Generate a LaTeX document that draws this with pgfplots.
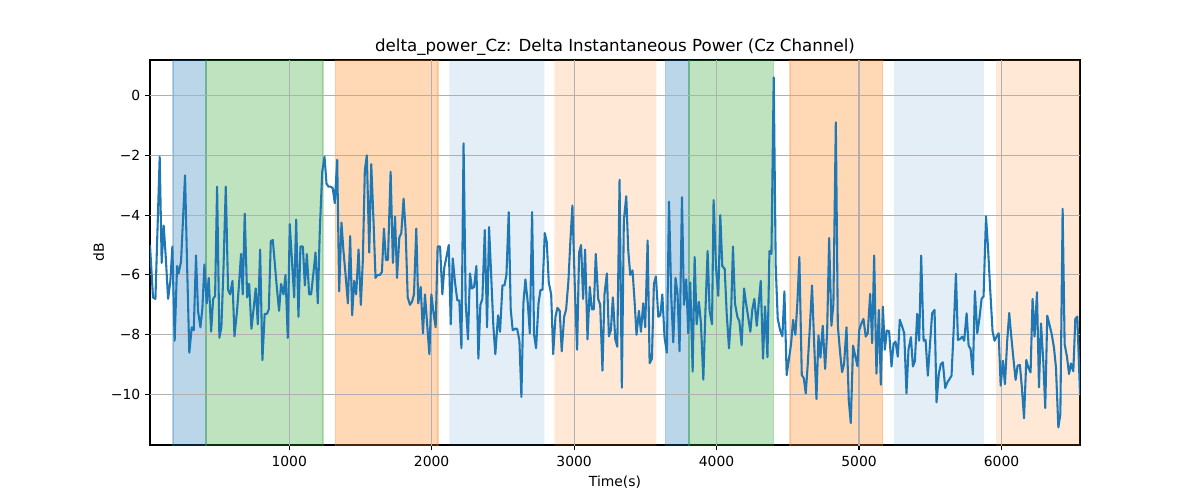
\documentclass[border=0pt]{standalone}
\usepackage{fontspec}
\setmainfont{DejaVu Sans}
\usepackage{pgfplots}
\pgfplotsset{compat=1.18}
\definecolor{tabblue}{HTML}{1F77B4}
\definecolor{tabgreen}{HTML}{2CA02C}
\definecolor{taborange}{HTML}{FF7F0E}
\definecolor{gridgray}{HTML}{B0B0B0}
\pgfplotstableread{
x y
23 -5.0
44 -6.75
61 -6.8
91 -2.05
105 -5.6
119 -4.35
133 -5.35
150 -6.8
166 -6.2
180 -5.05
196 -8.2
213 -5.7
224 -5.95
241 -5.55
269 -2.67
283 -5.6
299 -8.6
316 -7.75
330 -7.85
346 -5.35
360 -7.2
377 -7.75
391 -7.1
405 -5.65
421 -6.95
435 -6.1
452 -7.9
466 -6.8
480 -6.7
494 -3.05
510 -8.1
524 -7.75
538 -5.9
555 -3.05
571 -6.5
585 -6.65
602 -6.2
616 -8.05
634 -7.2
648 -6.3
662 -5.3
674 -6.65
688 -3.95
705 -6.75
719 -6.3
735 -7.8
751 -7.1
765 -6.45
780 -7.65
796 -5.15
812 -8.85
828 -7.3
844 -7.3
857 -7.15
871 -4.87
885 -4.83
913 -6.4
929 -7.2
943 -6.3
960 -6.65
974 -6.0
990 -8.1
1004 -4.3
1035 -6.75
1049 -4.15
1065 -7.4
1079 -5.05
1096 -5.05
1110 -6.35
1124 -5.3
1140 -6.65
1154 -6.65
1171 -5.9
1185 -5.25
1201 -6.95
1215 -4.5
1232 -2.55
1248 -2.05
1262 -2.95
1276 -3.05
1292 -3.05
1306 -3.1
1320 -3.6
1337 -2.15
1351 -6.55
1367 -4.25
1381 -5.2
1395 -5.95
1412 -6.95
1428 -4.7
1442 -7.35
1456 -6.2
1470 -6.65
1487 -5.15
1503 -7.0
1517 -5.5
1531 -2.5
1545 -2.0
1562 -5.25
1576 -2.3
1592 -4.2
1606 -6.1
1620 -6.0
1637 -6.0
1651 -5.9
1665 -4.45
1679 -5.5
1693 -5.5
1712 -2.55
1728 -5.6
1743 -4.05
1757 -6.1
1773 -4.75
1787 -4.6
1803 -3.45
1817 -4.5
1832 -6.75
1848 -7.0
1862 -6.9
1876 -6.65
1892 -4.45
1906 -6.95
1923 -6.4
1939 -7.95
1953 -6.65
1967 -7.55
1984 -8.65
1998 -6.65
2014 -7.3
2028 -7.75
2042 -5.05
2059 -5.05
2075 -6.65
2089 -5.75
2106 -5.35
2120 -5.0
2134 -7.65
2148 -5.45
2164 -6.25
2180 -6.85
2194 -6.85
2209 -8.45
2224 -1.6
2239 -6.95
2255 -8.15
2269 -5.95
2283 -6.45
2298 -6.4
2314 -5.7
2328 -8.8
2342 -7.0
2356 -6.8
2373 -4.5
2389 -7.75
2403 -4.4
2419 -6.15
2433 -7.7
2447 -8.65
2466 -7.35
2480 -7.9
2497 -6.35
2511 -6.35
2525 -6.0
2541 -3.9
2555 -7.15
2569 -7.85
2586 -7.8
2600 -7.8
2616 -8.2
2630 -10.08
2644 -6.95
2658 -6.15
2675 -6.95
2689 -7.95
2705 -3.9
2719 -8.0
2733 -8.45
2750 -6.95
2764 -6.5
2778 -6.5
2794 -4.6
2808 -4.9
2822 -6.25
2839 -6.65
2853 -8.65
2869 -7.4
2883 -7.1
2899 -7.2
2913 -8.55
2930 -7.4
2944 -7.15
2960 -6.2
2974 -4.85
2988 -3.68
3005 -6.4
3021 -8.5
3035 -5.25
3049 -5.0
3063 -6.8
3077 -5.15
3094 -8.15
3110 -6.4
3124 -7.15
3138 -7.15
3152 -5.3
3169 -6.8
3183 -7.0
3199 -9.2
3213 -6.65
3230 -5.95
3244 -8.05
3258 -7.85
3272 -6.75
3289 -8.15
3303 -8.4
3319 -2.82
3335 -9.77
3349 -4.18
3366 -3.37
3380 -5.18
3394 -6.0
3410 -5.85
3424 -6.85
3438 -8.0
3455 -7.2
3469 -7.9
3485 -6.95
3499 -7.75
3516 -4.85
3530 -8.95
3546 -8.8
3560 -6.3
3574 -6.05
3591 -7.4
3605 -7.35
3619 -6.65
3635 -8.1
3651 -8.6
3666 -3.55
3682 -6.75
3696 -8.25
3712 -6.1
3726 -6.65
3740 -8.55
3757 -3.4
3771 -7.0
3787 -6.15
3801 -7.95
3815 -6.25
3832 -9.23
3846 -5.4
3860 -7.65
3876 -6.9
3890 -7.6
3907 -9.5
3921 -7.3
3937 -5.2
3951 -7.2
3968 -7.65
3979 -3.5
3996 -5.75
4012 -6.7
4026 -4.0
4040 -5.7
4057 -5.8
4071 -7.3
4087 -8.45
4101 -7.4
4115 -5.05
4129 -6.95
4146 -7.4
4160 -7.55
4176 -8.35
4193 -6.45
4207 -6.95
4223 -7.45
4237 -7.9
4251 -7.15
4265 -6.8
4282 -7.7
4296 -6.95
4310 -6.2
4326 -8.8
4340 -7.05
4357 -8.75
4371 -5.2
4385 -5.3
4401 0.6
4415 -5.7
4429 -7.45
4446 -7.85
4462 -8.05
4476 -6.55
4492 -9.35
4508 -8.8
4523 -8.3
4537 -7.5
4553 -8.0
4567 -6.95
4581 -5.4
4598 -9.35
4612 -9.45
4626 -9.96
4640 -8.97
4656 -7.64
4670 -6.35
4685 -8.3
4701 -10.15
4715 -8.03
4729 -8.76
4745 -7.7
4762 -9.14
4776 -7.9
4790 -4.77
4806 -7.7
4820 -6.97
4837 -0.9
4851 -7.7
4867 -8.6
4881 -9.25
4895 -8.97
4912 -7.75
4928 -10.2
4942 -10.95
4958 -8.36
4975 -8.75
4989 -9.05
5001 -7.85
5015 -7.64
5031 -7.47
5047 -8.06
5061 -7.95
5078 -6.63
5092 -8.28
5106 -5.35
5122 -9.3
5139 -7.17
5153 -9.67
5167 -7.06
5181 -8.5
5195 -7.86
5211 -7.88
5228 -9.06
5242 -8.3
5256 -8.23
5272 -8.73
5286 -7.5
5303 -7.73
5317 -7.95
5333 -9.96
5347 -8.5
5364 -8.08
5378 -9.06
5392 -8.88
5408 -7.3
5422 -8.2
5436 -5.35
5453 -8.2
5467 -8.17
5483 -9.37
5499 -8.25
5513 -7.28
5530 -7.17
5544 -10.26
5560 -9.3
5574 -8.98
5588 -8.92
5605 -9.78
5619 -9.6
5635 -9.48
5649 -9.37
5666 -7.64
5680 -5.96
5694 -8.17
5710 -8.14
5724 -8.06
5738 -8.2
5755 -7.28
5769 -8.36
5783 -8.48
5799 -9.33
5813 -6.54
5830 -7.95
5846 -7.41
5860 -6.8
5874 -6.72
5891 -4.04
5905 -5.07
5921 -6.52
5937 -7.88
5951 -8.2
5966 -8.06
5980 -7.95
5994 -9.7
6010 -8.87
6024 -9.65
6040 -8.2
6054 -7.27
6069 -8.08
6085 -8.87
6099 -9.51
6113 -9.03
6129 -9.01
6143 -9.76
6158 -10.79
6174 -8.84
6188 -9.09
6204 -9.26
6218 -6.8
6232 -8.06
6249 -6.58
6263 -9.76
6277 -7.62
6293 -8.87
6307 -10.45
6321 -7.36
6338 -7.69
6352 -7.97
6368 -8.42
6382 -9.09
6399 -11.1
6413 -10.65
6429 -3.79
6443 -8.31
6460 -8.75
6474 -9.31
6488 -8.96
6504 -9.22
6518 -7.47
6532 -7.39
6551 -9.98
}\datatable
\begin{document}
\begin{tikzpicture}
\path[use as bounding box] (-108pt,-39.6pt) rectangle (756pt,320.4pt);
\begin{axis}[
  at={(0pt,0pt)}, anchor=south west,
  scale only axis,
  width=669.6pt, height=277.2pt,
  xmin=23, xmax=6551, ymin=-11.685, ymax=1.185,
  xtick={1000,2000,3000,4000,5000,6000},
  xticklabels={1000,2000,3000,4000,5000,6000},
  ytick={-10,-8,-6,-4,-2,0},
  yticklabels={−10,−8,−6,−4,−2,0},
  tick align=outside,
  major tick length=3.5pt,
  tick style={black, line width=0.8pt},
  xtick pos=left, ytick pos=left,
  axis line style={line width=0.8pt},
  tick label style={font=\fontsize{10}{12}\selectfont},
  xticklabel style={yshift=-1pt},
  label style={font=\fontsize{10}{12}\selectfont},
  xlabel={Time(s)}, ylabel={dB},
  xlabel style={yshift=0pt},
  ylabel style={yshift=-2pt},
  title={delta\_power\_Cz: Delta Instantaneous Power (Cz Channel)},
  title style={font=\fontsize{12}{14}\selectfont, yshift=-6.3pt},
  gridln/.style={gridgray, line width=0.8pt, forget plot},
]
\addplot[fill=tabblue, fill opacity=0.3, draw=tabblue, draw opacity=0.3, line width=1pt] coordinates {(185,-13) (185,3) (417,3) (417,-13) (185,-13)};
\addplot[fill=tabgreen, fill opacity=0.3, draw=tabgreen, draw opacity=0.3, line width=1pt] coordinates {(417,-13) (417,3) (1237,3) (1237,-13) (417,-13)};
\addplot[fill=taborange, fill opacity=0.3, draw=taborange, draw opacity=0.3, line width=1pt] coordinates {(1325,-13) (1325,3) (2045,3) (2045,-13) (1325,-13)};
\addplot[fill=tabblue, fill opacity=0.12, draw=none] coordinates {(2125,-13) (2125,3) (2791,3) (2791,-13) (2125,-13)};
\addplot[fill=taborange, fill opacity=0.17, draw=none] coordinates {(2862,-13) (2862,3) (3578,3) (3578,-13) (2862,-13)};
\addplot[fill=tabblue, fill opacity=0.3, draw=tabblue, draw opacity=0.3, line width=1pt] coordinates {(3643,-13) (3643,3) (3806,3) (3806,-13) (3643,-13)};
\addplot[fill=tabgreen, fill opacity=0.3, draw=tabgreen, draw opacity=0.3, line width=1pt] coordinates {(3806,-13) (3806,3) (4399,3) (4399,-13) (3806,-13)};
\addplot[fill=taborange, fill opacity=0.3, draw=taborange, draw opacity=0.3, line width=1pt] coordinates {(4516,-13) (4516,3) (5165,3) (5165,-13) (4516,-13)};
\addplot[fill=tabblue, fill opacity=0.12, draw=none] coordinates {(5245,-13) (5245,3) (5876,3) (5876,-13) (5245,-13)};
\addplot[fill=taborange, fill opacity=0.17, draw=none] coordinates {(5962,-13) (5962,3) (6600,3) (6600,-13) (5962,-13)};
% grid lines above the shaded spans and below the signal
\addplot[gridln] coordinates {(1000,-13) (1000,3)};
\addplot[gridln] coordinates {(2000,-13) (2000,3)};
\addplot[gridln] coordinates {(3000,-13) (3000,3)};
\addplot[gridln] coordinates {(4000,-13) (4000,3)};
\addplot[gridln] coordinates {(5000,-13) (5000,3)};
\addplot[gridln] coordinates {(6000,-13) (6000,3)};
\addplot[gridln] coordinates {(0,-10) (6600,-10)};
\addplot[gridln] coordinates {(0,-8) (6600,-8)};
\addplot[gridln] coordinates {(0,-6) (6600,-6)};
\addplot[gridln] coordinates {(0,-4) (6600,-4)};
\addplot[gridln] coordinates {(0,-2) (6600,-2)};
\addplot[gridln] coordinates {(0,0) (6600,0)};
\addplot[tabblue, line width=1.5pt, line join=round, mark=none] table[x=x, y=y] {\datatable};
\end{axis}
\end{tikzpicture}
\end{document}
